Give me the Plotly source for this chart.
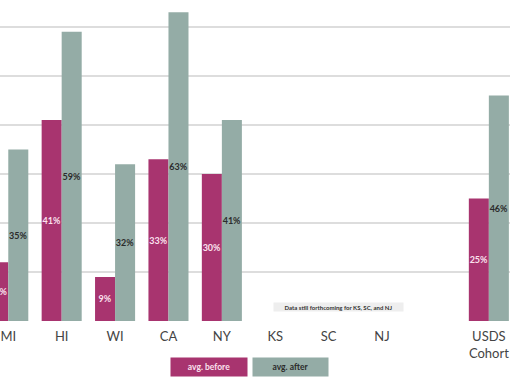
import plotly.graph_objects as go

categories = ["MI", "HI", "WI", "CA", "NY", "KS", "SC", "NJ", " ", "USDS<br>Cohort"]
avg_before = [12, 41, 9, 33, 30, None, None, None, None, 25]
avg_after = [35, 59, 32, 63, 41, None, None, None, None, 46]

BEFORE_COLOR = "#a8346f"
AFTER_COLOR = "#94aca6"
FONT = "Lato"

fig = go.Figure()
fig.add_trace(go.Bar(
    x=categories, y=avg_before, name="avg. before",
    marker=dict(color=BEFORE_COLOR, line=dict(width=0)),
    texttemplate="%{y}%", textposition="inside", insidetextanchor="middle",
    textangle=0, constraintext="none",
    textfont=dict(family=FONT, size=9, color="#fbe2ee", weight="bold"),
))
fig.add_trace(go.Bar(
    x=categories, y=avg_after, name="avg. after",
    marker=dict(color=AFTER_COLOR, line=dict(width=0)),
    texttemplate="%{y}%", textposition="inside", insidetextanchor="middle",
    textangle=0, constraintext="none",
    textfont=dict(family=FONT, size=9, color="#2b2b2b", weight="bold"),
))

fig.update_layout(
    width=510, height=382,
    margin=dict(l=0, r=0, t=0, b=61),
    paper_bgcolor="white", plot_bgcolor="white",
    barmode="group", bargap=0.25, bargroupgap=0,
    showlegend=False,
    font=dict(family=FONT, color="#444444"),
    xaxis=dict(
        type="category", range=[-0.155, 9.396],
        showgrid=False, zeroline=False, showline=False, ticks="",
        tickfont=dict(family=FONT, size=13, color="#444444"),
        ticklabelstandoff=6,
    ),
    yaxis=dict(
        range=[0, 65.5], dtick=10,
        showgrid=True, gridcolor="#dddddd", gridwidth=1.5,
        zeroline=False, showline=False, showticklabels=False, ticks="",
    ),
    annotations=[
        dict(text="<b>avg. before</b>", xref="paper", yref="paper",
             x=209 / 510, y=-46 / 321, xanchor="center", yanchor="middle",
             showarrow=False, width=76, height=18, borderpad=0,
             bgcolor=BEFORE_COLOR, font=dict(family=FONT, size=8.5, color="#fbe2ee")),
        dict(text="<b>avg. after</b>", xref="paper", yref="paper",
             x=290.5 / 510, y=-46 / 321, xanchor="center", yanchor="middle",
             showarrow=False, width=75, height=18, borderpad=0,
             bgcolor=AFTER_COLOR, font=dict(family=FONT, size=8.5, color="#2b2b2b")),
        dict(text="<b>Data still forthcoming for KS, SC, and NJ</b>", xref="paper", yref="paper",
             x=338.5 / 510, y=14 / 321, xanchor="center", yanchor="middle",
             showarrow=False, width=129, height=8, borderpad=0,
             bgcolor="#eeeeee", font=dict(family=FONT, size=6, color="#333333")),
    ],
)

fig.write_html(
    "out.html",
    config={"displayModeBar": False, "staticPlot": True},
    post_script="document.body.style.margin='0';document.body.style.overflow='hidden';",
)
